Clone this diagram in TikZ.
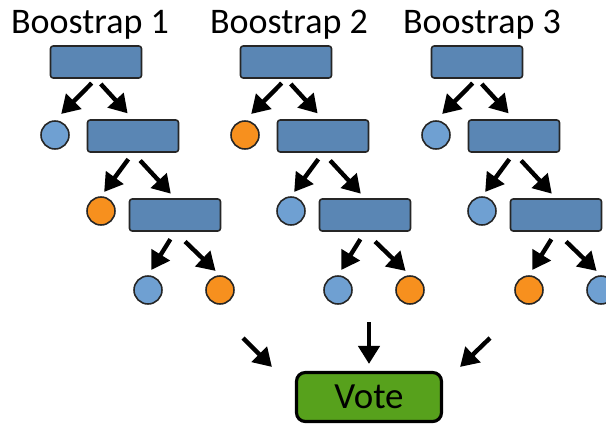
\documentclass[tikz,border=0pt]{standalone}
\usepackage{fontspec}
\setmainfont{Carlito}
\usetikzlibrary{arrows.meta}

\definecolor{boxblue}{HTML}{5A86B4}
\definecolor{leafblue}{HTML}{6FA0D2}
\definecolor{leaforange}{HTML}{F7901E}
\definecolor{votegreen}{HTML}{57A11C}

\begin{document}
\begin{tikzpicture}[x=0.02cm, y=-0.02cm,
    splitbox/.style={draw=black!85, line width=0.9pt, fill=boxblue,
      rounded corners=1.5pt, minimum width=1.82cm, minimum height=0.64cm, inner sep=0pt},
    leaf/.style={circle, draw=black!85, line width=0.9pt, minimum size=0.56cm, inner sep=0pt},
    bigarrow/.style={-{Triangle[length=0.36cm, width=0.42cm]}, line width=2.5pt},
    treetitle/.style={anchor=base, inner sep=0pt, font=\fontsize{20.5}{24}\selectfont},
    votebox/.style={draw=black, line width=1.8pt, fill=votegreen, rounded corners=5pt,
      minimum width=2.9cm, minimum height=0.98cm, font=\fontsize{21}{25}\selectfont}]

  % Frame: 606 x 427 px, y pointing down
  \useasboundingbox (0, 0) rectangle (606, 427);
  \clip (0, 0) rectangle (606, 427);

  \foreach \t/\xt in {1/90, 2/289, 3/482}{
    \node[treetitle] (title\t) at (\xt, 33) {Boostrap \t};
  }

  % One tree per bootstrap sample, leaf colours = predicted class
  \foreach \t/\dx/\ca/\cb/\cc/\cd in {1/0/leafblue/leaforange/leafblue/leaforange,
      2/190/leaforange/leafblue/leafblue/leaforange,
      3/381/leafblue/leafblue/leaforange/leafblue}{
    \begin{scope}[shift={(\dx, 0)}]
      \node[splitbox] (root\t) at (96, 62) {};
      \node[leaf, fill=\ca] (leafa\t) at (55, 135) {};
      \node[splitbox] (mid\t) at (133, 136) {};
      \node[leaf, fill=\cb] (leafb\t) at (101, 211) {};
      \node[splitbox] (low\t) at (175, 215) {};
      \node[leaf, fill=\cc] (leafc\t) at (148, 290) {};
      \node[leaf, fill=\cd] (leafd\t) at (220, 290) {};

      \draw[bigarrow, shorten <=3.5pt, shorten >=5pt] (root\t.south) -- (leafa\t.north);
      \draw[bigarrow, shorten <=4pt, shorten >=4.5pt] (root\t.south) -- (mid\t.north);
      \draw[bigarrow, shorten <=4.5pt, shorten >=3pt] (mid\t.south) -- (leafb\t.north);
      \draw[bigarrow, shorten <=6pt, shorten >=3.5pt] (mid\t.south) -- (low\t.north);
      \draw[bigarrow, shorten <=5pt, shorten >=3.5pt] (low\t.south) -- (leafc\t.north);
      \draw[bigarrow, shorten <=8pt, shorten >=3.5pt] (low\t.south) -- (leafd\t.north);
    \end{scope}
  }

  % Majority vote
  \node[votebox] (vote) at (369, 397) {Vote};

  \coordinate (in1) at (243, 338);
  \coordinate (in2) at (369, 322);
  \coordinate (in3) at (490, 338);

  \draw[bigarrow] (in1) -- ([shift={(-23, -4)}]vote.north west);
  \draw[bigarrow] (in2) -- ([shift={(0, -7)}]vote.north);
  \draw[bigarrow] (in3) -- ([shift={(17, -4)}]vote.north east);

\end{tikzpicture}
\end{document}
